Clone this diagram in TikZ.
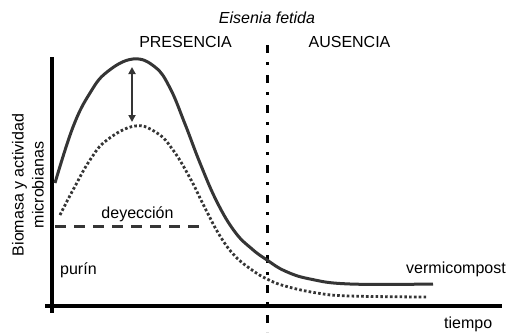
\documentclass[tikz,border=0pt]{standalone}
\usepackage{fontspec}
\setmainfont{Liberation Sans}
\usetikzlibrary{arrows.meta}
\definecolor{curvegray}{HTML}{353535}
\begin{document}
\begin{tikzpicture}[
        x=1pt, y=-1pt,
        every node/.style={font=\fontsize{16}{20}\selectfont, inner sep=0pt},
        axis/.style={line width=3.2pt, black},
        curve/.style={line width=3pt, curvegray},
        dotcurve/.style={line width=2.8pt, curvegray, dash pattern=on 2.6pt off 2.2pt},
        divide/.style={line width=3pt, black, dash pattern=on 8pt off 9pt on 2.8pt off 10.2pt},
        level/.style={line width=3pt, curvegray, dash pattern=on 11pt off 8pt},
        arrow/.style={{Triangle[length=7pt,width=7pt]}-{Triangle[length=7pt,width=7pt]}, line width=2.8pt, curvegray}
    ]
        \useasboundingbox (0,0) rectangle (508,332);

        % Ejes
        \coordinate (ytop) at (52,57);
        \coordinate (ybot) at (52,313);
        \coordinate (xleft) at (45,306);
        \coordinate (xright) at (502,306);
        \draw[axis] (ytop) -- (ybot);
        \draw[axis] (xleft) -- (xright);

        % Limite presencia / ausencia
        \coordinate (divtop) at (267,45);
        \coordinate (divbot) at (267,332);
        \draw[divide] (divtop) -- (divbot);

        % Curva con lombrices
        \draw[curve] plot[smooth, tension=0.7] coordinates {
            (55,183) (73,127) (90,93) (107,72) (133,59) (155,67) (170,88)
            (185,124) (200,163) (217,202) (235,232) (252,249) (267,260)
            (285,271) (310,279) (350,284) (433,284)};

        % Curva sin lombrices
        \draw[dotcurve] plot[smooth, tension=0.7] coordinates {
            (60,215) (73,190) (90,160) (107,140) (135,126) (157,133) (173,150)
            (190,178) (205,208) (220,236) (235,256) (252,270) (267,279)
            (285,286) (317,293) (350,296) (427,297)};

        % Nivel de la deyeccion
        \coordinate (lvleft) at (55,226);
        \coordinate (lvright) at (205,226);
        \draw[level] (lvleft) -- (lvright);

        % Diferencia
        \coordinate (atop) at (132,67);
        \coordinate (abot) at (132,122);
        \draw[arrow] (atop) -- (abot);

        % Textos
        \node[font=\fontsize{16}{20}\selectfont\itshape] (especie) at (267,18) {Eisenia fetida};
        \node (presencia) at (185.5,42) {PRESENCIA};
        \node (ausencia) at (349.5,42) {AUSENCIA};
        \node[anchor=base] (deyeccion) at (137.5,218) {deyección};
        \node[anchor=base west] (purin) at (60,274) {purín};
        \node[anchor=base east] (vermi) at (506,273) {vermicompost};
        \node[anchor=base west] (tiempo) at (444,328) {tiempo};
        \node[rotate=90, align=center] (ylabel) at (28,185) {Biomasa y actividad\\microbianas};

    \end{tikzpicture}
\end{document}
